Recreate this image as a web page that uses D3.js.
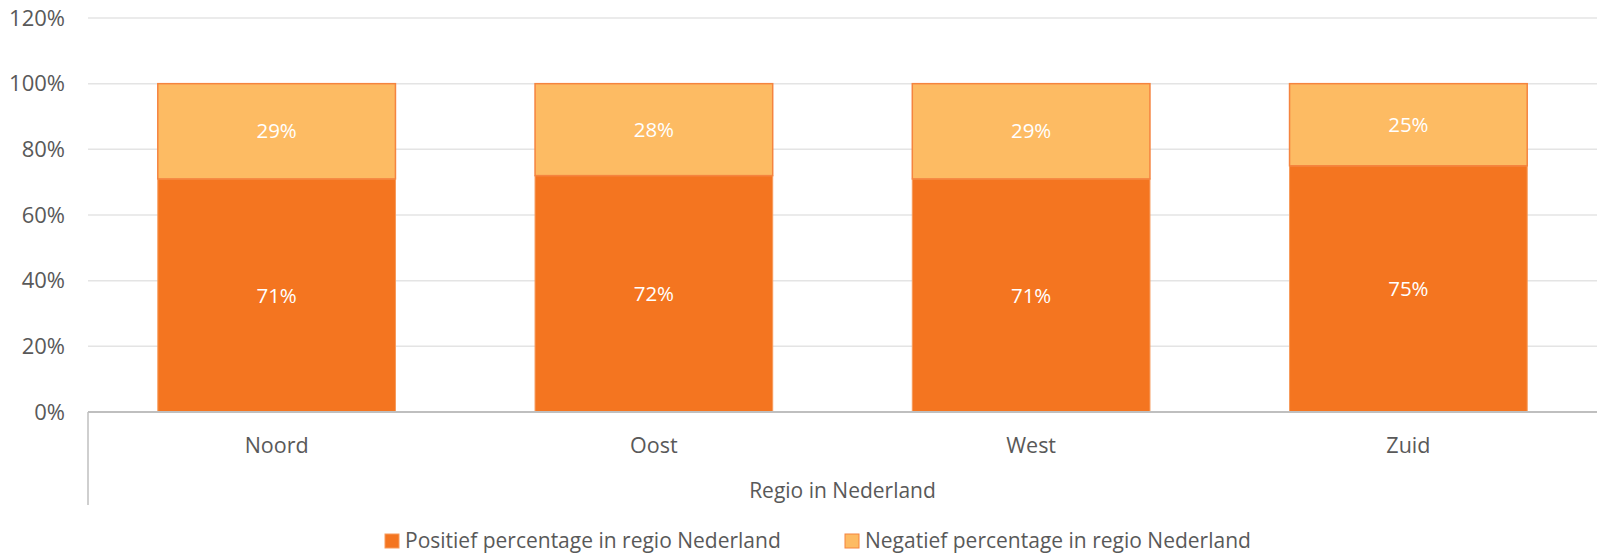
<!DOCTYPE html>
<html>
<head>
<meta charset="utf-8">
<script src="https://cdn.jsdelivr.net/npm/d3@7"></script>
<style>
  body { margin: 0; background: #fff; }
  svg { display: block; font-family: "Open Sans", sans-serif; }
</style>
</head>
<body>
<svg id="chart" width="1597" height="555"></svg>
<script>
// chart data
const regions = ["Noord", "Oost", "West", "Zuid"];
const positief = [0.71, 0.72, 0.71, 0.75];
const negatief = [0.29, 0.28, 0.29, 0.25];
const yTicks = [0, 0.2, 0.4, 0.6, 0.8, 1.0, 1.2];
const seriesNames = ["Positief percentage in regio Nederland", "Negatief percentage in regio Nederland"];

const colPos = "#f47520";
const colNeg = "#fdbb63";

const svg = d3.select("#chart");
const plotLeft = 88, plotRight = 1597, plotTop = 18, plotBottom = 412;

const x = d3.scaleBand()
    .domain(regions)
    .range([plotLeft, plotRight])
    .paddingInner(0.37)
    .paddingOuter(0.185);

const y = d3.scaleLinear()
    .domain([0, 1.2])
    .range([plotBottom, plotTop]);

// gridlines
svg.append("g")
    .selectAll("line")
    .data(yTicks.filter(d => d > 0))
    .join("line")
    .attr("x1", plotLeft)
    .attr("x2", plotRight)
    .attr("y1", d => y(d))
    .attr("y2", d => y(d))
    .attr("stroke", "#e4e4e4")
    .attr("stroke-width", 1.5);

// y axis labels
svg.append("g")
    .selectAll("text")
    .data(yTicks)
    .join("text")
    .attr("x", 65)
    .attr("y", d => y(d))
    .attr("dy", "0.35em")
    .attr("text-anchor", "end")
    .attr("font-size", "22px")
    .attr("fill", "#595959")
    .text(d => d3.format(".0%")(d));

// stacked bars
const rows = regions.map((r, i) => ({ region: r, pos: positief[i], neg: negatief[i] }));

svg.append("g")
    .selectAll("rect")
    .data(rows)
    .join("rect")
    .attr("x", d => x(d.region))
    .attr("width", x.bandwidth())
    .attr("y", d => y(d.pos))
    .attr("height", d => y(0) - y(d.pos))
    .attr("fill", colPos)
    .attr("stroke", "#f79a5b")
    .attr("stroke-width", 1);

svg.append("g")
    .selectAll("rect")
    .data(rows)
    .join("rect")
    .attr("x", d => x(d.region))
    .attr("width", x.bandwidth())
    .attr("y", d => y(d.pos + d.neg))
    .attr("height", d => y(d.pos) - y(d.pos + d.neg))
    .attr("fill", colNeg)
    .attr("stroke", "#f5843f")
    .attr("stroke-width", 1.5);

// data labels
const labels = svg.append("g")
    .attr("font-size", "20.5px")
    .attr("fill", "#fff")
    .attr("text-anchor", "middle");

labels.selectAll(".lp")
    .data(rows)
    .join("text")
    .attr("class", "lp")
    .attr("x", d => x(d.region) + x.bandwidth() / 2)
    .attr("y", d => y(d.pos / 2))
    .attr("dy", "0.35em")
    .text(d => d3.format(".0%")(d.pos));

labels.selectAll(".ln")
    .data(rows)
    .join("text")
    .attr("class", "ln")
    .attr("x", d => x(d.region) + x.bandwidth() / 2)
    .attr("y", d => y(d.pos + d.neg / 2))
    .attr("dy", "0.35em")
    .text(d => d3.format(".0%")(d.neg));

// x axis line and group bracket
svg.append("line")
    .attr("x1", plotLeft).attr("x2", plotRight)
    .attr("y1", plotBottom).attr("y2", plotBottom)
    .attr("stroke", "#bfbfbf")
    .attr("stroke-width", 2);

svg.append("line")
    .attr("x1", plotLeft).attr("x2", plotLeft)
    .attr("y1", plotBottom).attr("y2", 505)
    .attr("stroke", "#bfbfbf")
    .attr("stroke-width", 1.5);

// category labels
svg.append("g")
    .selectAll("text")
    .data(regions)
    .join("text")
    .attr("x", d => x(d) + x.bandwidth() / 2)
    .attr("y", 445)
    .attr("dy", "0.35em")
    .attr("text-anchor", "middle")
    .attr("font-size", "21.5px")
    .attr("fill", "#595959")
    .text(d => d);

svg.append("text")
    .attr("x", (plotLeft + plotRight) / 2)
    .attr("y", 491)
    .attr("dy", "0.35em")
    .attr("text-anchor", "middle")
    .attr("font-size", "21px")
    .attr("fill", "#595959")
    .text("Regio in Nederland");

// legend
const legendX = [385, 845];
const legendCol = [colPos, colNeg];
const legendStroke = ["#f79a5b", "#f5843f"];
const lg = svg.append("g")
    .selectAll("g")
    .data(seriesNames)
    .join("g")
    .attr("transform", (d, i) => `translate(${legendX[i]},541)`);

lg.append("rect")
    .attr("x", 0)
    .attr("y", -7)
    .attr("width", 14)
    .attr("height", 14)
    .attr("fill", (d, i) => legendCol[i])
    .attr("stroke", (d, i) => legendStroke[i])
    .attr("stroke-width", 1);

lg.append("text")
    .attr("x", 20)
    .attr("dy", "0.35em")
    .attr("font-size", "21px")
    .attr("fill", "#595959")
    .text(d => d);
</script>
</body>
</html>
